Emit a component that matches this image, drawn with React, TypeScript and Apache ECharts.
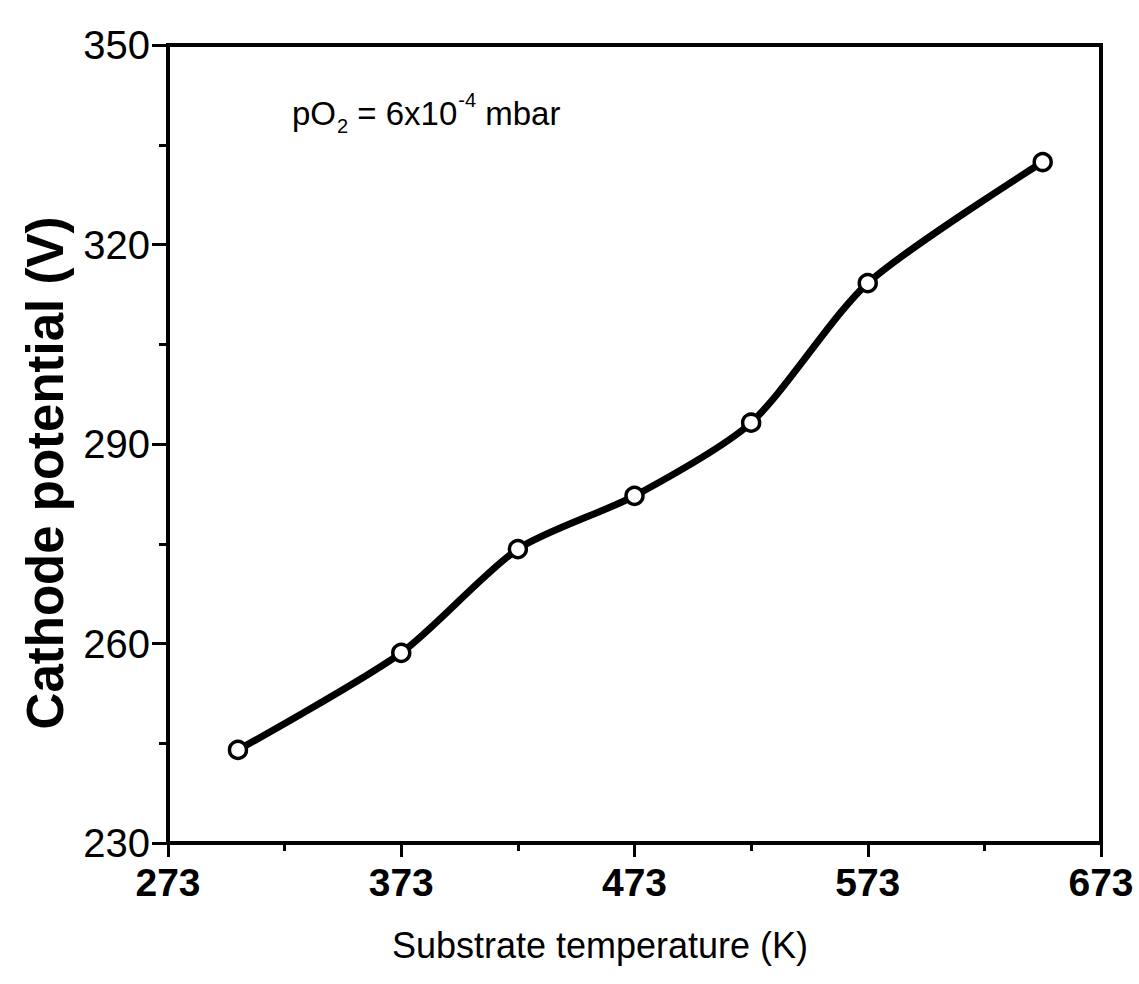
import React, { useEffect, useRef } from "react";
import * as echarts from "echarts";

const temperatures = [303, 373, 423, 473, 523, 573, 648];
const potentials = [244.0, 258.6, 274.2, 282.2, 293.2, 314.2, 332.4];
const xTicks = [273, 373, 473, 573, 673];
const yTicks = [230, 260, 290, 320, 350];

const FONT = "'Liberation Sans', Arial, Helvetica, sans-serif";

export default function App() {
  const ref = useRef<HTMLDivElement>(null);
  useEffect(() => {
    if (!ref.current) return;
    const chart = echarts.init(ref.current, undefined, { renderer: "svg" });
    const data = temperatures.map((t, i) => [t, potentials[i]]);
    chart.setOption({
      animation: false,
      backgroundColor: "#ffffff",
      grid: {
        left: 168,
        right: 38,
        top: 45,
        bottom: 141,
        show: true,
        borderColor: "#000",
        borderWidth: 4,
        containLabel: false,
      },
      xAxis: {
        type: "value",
        min: xTicks[0],
        max: xTicks[xTicks.length - 1],
        interval: 100,
        axisLine: { show: true, lineStyle: { color: "#000", width: 4 } },
        axisTick: { show: true, inside: false, length: 14, lineStyle: { color: "#000", width: 3 } },
        minorTick: { show: true, splitNumber: 2, length: 8, lineStyle: { color: "#000", width: 3 } },
        splitLine: { show: false },
        axisLabel: {
          show: true,
          color: "#000",
          fontFamily: FONT,
          fontWeight: "bold",
          fontSize: 39,
          margin: 20,
        },
      },
      yAxis: {
        type: "value",
        min: yTicks[0],
        max: yTicks[yTicks.length - 1],
        interval: 30,
        axisLine: { show: true, lineStyle: { color: "#000", width: 4 } },
        axisTick: { show: true, inside: false, length: 16, lineStyle: { color: "#000", width: 3 } },
        minorTick: { show: true, splitNumber: 2, length: 9, lineStyle: { color: "#000", width: 3 } },
        splitLine: { show: false },
        axisLabel: {
          show: true,
          color: "#000",
          fontFamily: FONT,
          fontSize: 40,
          margin: 18,
        },
      },
      graphic: [
        {
          type: "text",
          x: 600,
          y: 945,
          style: {
            text: "Substrate temperature (K)",
            fontFamily: FONT,
            fontSize: 36,
            fill: "#000",
            textAlign: "center",
            textVerticalAlign: "middle",
            verticalAlign: "middle",
            align: "center",
          },
        },
        {
          type: "text",
          x: 45,
          y: 473,
          rotation: Math.PI / 2,
          style: {
            text: "Cathode potential (V)",
            fontFamily: FONT,
            fontWeight: "bold",
            fontSize: 51,
            fill: "#000",
            textAlign: "center",
            textVerticalAlign: "middle",
            verticalAlign: "middle",
            align: "center",
          },
        },
        {
          type: "text",
          x: 292,
          y: 113,
          style: {
            text: "{a|pO}{s|2}{a| = 6x10}{p|-4}{a| mbar}",
            fill: "#000",
            verticalAlign: "middle",
            textVerticalAlign: "middle",
            rich: {
              a: { fontFamily: FONT, fontSize: 33, fill: "#000", color: "#000", lineHeight: 46, verticalAlign: "middle" },
              s: { fontFamily: FONT, fontSize: 20, fill: "#000", color: "#000", lineHeight: 46, verticalAlign: "bottom", padding: [0, 0, 0, 1] },
              p: { fontFamily: FONT, fontSize: 20, fill: "#000", color: "#000", lineHeight: 46, verticalAlign: "top", padding: [0, 0, 0, 1] },
            },
          },
        },
      ],
      series: [
        {
          type: "line",
          data,
          smooth: 0.25,
          lineStyle: { color: "#000", width: 7 },
          symbol: "circle",
          symbolSize: 17,
          showSymbol: true,
          itemStyle: { color: "#fff", borderColor: "#000", borderWidth: 3.5 },
          z: 3,
        },
      ],
    });
    return () => chart.dispose();
  }, []);
  return <div ref={ref} style={{ width: 1139, height: 984, position: "absolute", left: 0, top: 0 }} />;
}
